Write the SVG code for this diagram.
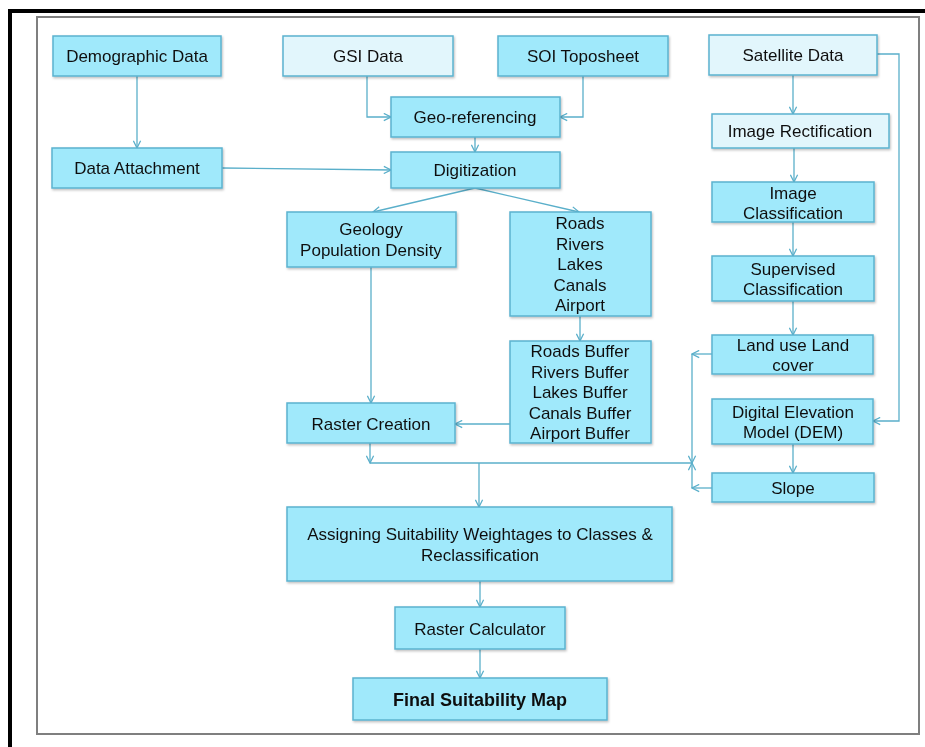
<svg xmlns="http://www.w3.org/2000/svg" width="925" height="747" viewBox="0 0 925 747">
<style>
.b{fill:#a0e9fb;stroke:#5bb3cf;stroke-width:1.5}
.l{fill:#e2f6fc;stroke:#5bb3cf;stroke-width:1.5}
text{font-family:"Liberation Sans",Arial,sans-serif;font-size:17px;fill:#111;text-anchor:middle}
.bold{font-weight:bold;font-size:18px}
.c{fill:none;stroke:#5aafca;stroke-width:1.3}
.a{marker-end:url(#ah)}
</style>
<defs>
<marker id="ah" viewBox="0 0 10 10" refX="9" refY="5" markerWidth="9" markerHeight="9" markerUnits="userSpaceOnUse" orient="auto">
<path d="M1,1 L9,5 L1,9" fill="none" stroke="#5aafca" stroke-width="1.4"/>
</marker>
<filter id="sh" x="-5%" y="-5%" width="115%" height="120%">
<feDropShadow dx="1" dy="1.5" stdDeviation="1" flood-color="#000" flood-opacity="0.25"/>
</filter>
</defs>
<rect width="925" height="747" fill="#fff"/>
<path d="M10,747 V11 H925" fill="none" stroke="#000" stroke-width="4"/>
<rect x="37" y="17" width="882" height="717" fill="none" stroke="#7f7f7f" stroke-width="2"/>

<g id="connectors">
<path class="c a" d="M137,76 V148"/>
<path class="c a" d="M367,76 V117 H391"/>
<path class="c a" d="M583,76 V117 H560"/>
<path class="c a" d="M475,137 V152"/>
<path class="c a" d="M222,168 L391,170"/>
<path class="c a" d="M475,188 L373,212"/>
<path class="c a" d="M475,188 L579,212"/>
<path class="c a" d="M580,316 V341"/>
<path class="c a" d="M371,267 V403"/>
<path class="c a" d="M510,424 H455"/>
<path class="c a" d="M370,443 V463"/>
<path class="c" d="M370,463 H692"/>
<path class="c a" d="M479,463 V507"/>
<path class="c a" d="M480,581 V607"/>
<path class="c a" d="M480,649 V678"/>
<path class="c a" d="M793,75 V114"/>
<path class="c a" d="M877,54 H899 V421 H873"/>
<path class="c a" d="M794,148 V182"/>
<path class="c a" d="M793,222 V256"/>
<path class="c a" d="M793,301 V335"/>
<path class="c a" d="M712,354 H692"/>
<path class="c a" d="M692,354 V463"/>
<path class="c a" d="M793,444 V473"/>
<path class="c a" d="M712,488 H692"/>
<path class="c a" d="M692,488 V463"/>
</g>

<g id="demographic" filter="url(#sh)"><rect class="b" x="53" y="36" width="168" height="40"/><text x="137" y="62">Demographic Data</text></g>
<g id="gsi" filter="url(#sh)"><rect class="l" x="283" y="36" width="170" height="40"/><text x="368" y="62">GSI Data</text></g>
<g id="soi" filter="url(#sh)"><rect class="b" x="498" y="36" width="170" height="40"/><text x="583" y="62">SOI Toposheet</text></g>
<g id="satellite" filter="url(#sh)"><rect class="l" x="709" y="35" width="168" height="40"/><text x="793" y="61">Satellite Data</text></g>
<g id="georef" filter="url(#sh)"><rect class="b" x="391" y="97" width="169" height="40"/><text x="475" y="123">Geo-referencing</text></g>
<g id="imgrect" filter="url(#sh)"><rect class="l" x="712" y="114" width="177" height="34"/><text x="800" y="137">Image Rectification</text></g>
<g id="dataatt" filter="url(#sh)"><rect class="b" x="52" y="148" width="170" height="40"/><text x="137" y="174">Data Attachment</text></g>
<g id="digitization" filter="url(#sh)"><rect class="b" x="391" y="152" width="169" height="36"/><text x="475" y="176">Digitization</text></g>
<g id="imgclass" filter="url(#sh)"><rect class="b" x="712" y="182" width="162" height="40"/><text x="793" y="199">Image</text><text x="793" y="219">Classification</text></g>
<g id="geology" filter="url(#sh)"><rect class="b" x="287" y="212" width="169" height="55"/><text x="371" y="235">Geology</text><text x="371" y="256">Population Density</text></g>
<g id="roads" filter="url(#sh)"><rect class="b" x="510" y="212" width="141" height="104"/><text x="580" y="229">Roads</text><text x="580" y="250">Rivers</text><text x="580" y="270">Lakes</text><text x="580" y="291">Canals</text><text x="580" y="311">Airport</text></g>
<g id="supervised" filter="url(#sh)"><rect class="b" x="712" y="256" width="162" height="45"/><text x="793" y="275">Supervised</text><text x="793" y="295">Classification</text></g>
<g id="landuse" filter="url(#sh)"><rect class="b" x="712" y="335" width="161" height="39"/><text x="793" y="351">Land use Land</text><text x="793" y="371">cover</text></g>
<g id="roadsbuf" filter="url(#sh)"><rect class="b" x="510" y="341" width="141" height="102"/><text x="580" y="357">Roads Buffer</text><text x="580" y="378">Rivers Buffer</text><text x="580" y="398">Lakes Buffer</text><text x="580" y="419">Canals Buffer</text><text x="580" y="439">Airport Buffer</text></g>
<g id="dem" filter="url(#sh)"><rect class="b" x="712" y="399" width="161" height="45"/><text x="793" y="418">Digital Elevation</text><text x="793" y="438">Model (DEM)</text></g>
<g id="raster" filter="url(#sh)"><rect class="b" x="287" y="403" width="168" height="40"/><text x="371" y="430">Raster Creation</text></g>
<g id="slope" filter="url(#sh)"><rect class="b" x="712" y="473" width="162" height="29"/><text x="793" y="494">Slope</text></g>
<g id="assigning" filter="url(#sh)"><rect class="b" x="287" y="507" width="385" height="74"/><text x="480" y="540">Assigning Suitability Weightages to Classes &amp;</text><text x="480" y="561">Reclassification</text></g>
<g id="rastercalc" filter="url(#sh)"><rect class="b" x="395" y="607" width="170" height="42"/><text x="480" y="635">Raster Calculator</text></g>
<g id="final" filter="url(#sh)"><rect class="b" x="353" y="678" width="254" height="42"/><text class="bold" x="480" y="706">Final Suitability Map</text></g>
</svg>
